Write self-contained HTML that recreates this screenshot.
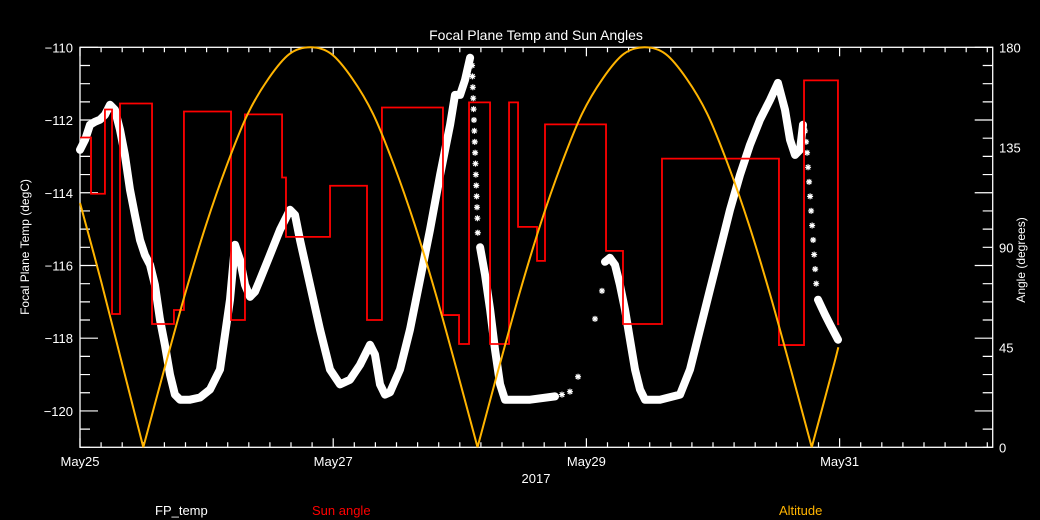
<!DOCTYPE html>
<html><head><meta charset="utf-8">
<style>
html,body{margin:0;padding:0;background:#000;}
svg{display:block;font-family:"Liberation Sans",sans-serif;}
</style></head>
<body>
<svg id="chart" width="1040" height="520" viewBox="0 0 1040 520" xmlns="http://www.w3.org/2000/svg">
<rect x="0" y="0" width="1040" height="520" fill="#000"/>
<text x="536" y="40" fill="#fff" font-size="14" text-anchor="middle">Focal Plane Temp and Sun Angles</text>
<g id="axes"></g>
<g id="marks"></g>
<text x="536" y="483" fill="#fff" font-size="13" text-anchor="middle">2017</text>
<text transform="translate(29,247) rotate(-90)" fill="#fff" font-size="12" text-anchor="middle">Focal Plane Temp (degC)</text>
<text transform="translate(1025,260) rotate(-90)" fill="#fff" font-size="12" text-anchor="middle">Angle (degrees)</text>
<text x="155" y="515" fill="#fff" font-size="13">FP_temp</text>
<text x="312" y="515" fill="#ff0000" font-size="13">Sun angle</text>
<text x="779" y="515" fill="#ffb400" font-size="13">Altitude</text>
</svg>
<script>
// ---- data ----
const xTickLabels = ["May25","May27","May29","May31"];
const xTickDays = [0,2,4,6];
const leftTickVals = [-110,-112,-114,-116,-118,-120];
const rightTickVals = [0,45,90,135,180];

const sunDays = [0,0.087,0.197,0.253,0.316,0.569,0.742,0.821,1.193,1.303,1.596,1.627,1.975,2.267,2.385,2.867,2.994,3.073,3.239,3.389,3.460,3.610,3.673,4.155,4.289,4.597,5.521,5.719,5.987];
const sunAngles = [139.4,114.1,152.0,60.0,154.7,55.5,61.8,151.1,57.3,149.8,121.4,94.7,117.7,57.3,152.9,59.5,46.5,155.2,46.5,155.2,99.2,83.9,145.3,88.4,55.5,129.9,46.0,165.1,55.5];

const altDays = [0,0.17,0.335,0.5,0.665,0.83,0.995,1.16,1.325,1.49,1.655,1.82,1.985,2.15,2.315,2.48,2.645,2.81,2.975,3.14,3.305,3.47,3.635,3.80,3.965,4.13,4.295,4.46,4.625,4.79,4.955,5.12,5.285,5.45,5.615,5.78,5.945,5.99];
const altVals = [110,74,37,0,35,69,100,127,150,166,177,180,177,166,150,127,100,69,35,0,35,69,100,127,150,166,177,180,177,166,150,127,100,69,35,0,35,45];

const fpDays = [0,0.04,0.079,0.118,0.158,0.197,0.237,0.276,0.316,0.355,0.395,0.434,0.474,0.513,0.553,0.592,0.632,0.671,0.711,0.750,0.790,0.869,0.948,1.027,1.106,1.185,1.224,1.264,1.303,1.343,1.382,1.422,1.501,1.580,1.659,1.698,1.738,1.817,1.896,1.975,2.054,2.133,2.212,2.291,2.330,2.370,2.409,2.449,2.528,2.607,2.686,2.765,2.844,2.923,2.962,3.002,3.041,3.081,null,3.160,3.199,3.239,3.278,3.318,3.357,3.555,3.752,null,4.147,4.186,4.226,4.265,4.305,4.344,4.384,4.423,4.463,4.581,4.739,4.818,4.897,4.976,5.055,5.134,5.213,5.292,5.371,5.450,5.513,5.569,5.608,5.648,5.687,5.711,null,5.829,5.885,5.924,5.987];
const fpTemps = [-112.82,-112.54,-112.13,-112.05,-111.99,-111.86,-111.58,-111.72,-112.27,-112.96,-113.92,-114.61,-115.30,-115.71,-115.98,-116.53,-117.49,-118.18,-119.00,-119.55,-119.69,-119.69,-119.63,-119.41,-118.86,-116.94,-115.43,-115.84,-116.53,-116.86,-116.72,-116.39,-115.71,-115.02,-114.47,-114.61,-115.30,-116.53,-117.76,-118.86,-119.27,-119.14,-118.73,-118.18,-118.45,-119.27,-119.55,-119.49,-118.86,-117.76,-116.39,-115.02,-113.51,-112.13,-111.31,-111.31,-110.90,-110.29,null,-115.50,-116.25,-117.21,-118.31,-119.27,-119.69,-119.69,-119.60,null,-115.90,-115.79,-115.98,-116.53,-117.21,-118.04,-118.86,-119.41,-119.69,-119.69,-119.55,-118.86,-117.76,-116.66,-115.57,-114.47,-113.51,-112.68,-111.99,-111.45,-110.98,-111.72,-112.54,-112.96,-112.82,-112.13,null,-116.94,-117.35,-117.62,-118.04];

const fpStarDays = [3.097,3.100,3.103,3.106,3.109,3.112,3.115,3.118,3.121,3.124,3.127,3.130,3.133,3.136,3.139,3.142,3.807,3.870,3.934,4.068,4.123,5.727,5.735,5.743,5.751,5.759,5.767,5.775,5.783,5.791,5.799,5.807,5.815];
const fpStarTemps = [-110.5,-110.8,-111.1,-111.4,-111.7,-112.0,-112.3,-112.6,-112.9,-113.2,-113.5,-113.8,-114.1,-114.4,-114.7,-115.1,-119.55,-119.47,-119.06,-117.47,-116.70,-112.3,-112.6,-112.9,-113.3,-113.7,-114.1,-114.5,-114.9,-115.3,-115.7,-116.1,-116.5];

// ---- axes functions ----
const X0=80, X1=992.7, Y0=47.3, Y1=447.3, PXD=126.6;
const xS = d => X0 + d*PXD;
const yT = t => Y0 + (-110 - t)*(Y1-Y0)/11;
const yA = a => Y1 - a*(Y1-Y0)/180;
const NS="http://www.w3.org/2000/svg";
const axes=document.getElementById('axes'), marks=document.getElementById('marks');
function mk(tag, attrs, parent){const e=document.createElementNS(NS,tag);for(const k in attrs)e.setAttribute(k,attrs[k]);parent.appendChild(e);return e;}

const frame = mk('rect',{x:X0,y:Y0,width:X1-X0,height:Y1-Y0,fill:'none',stroke:'#fff','stroke-width':1.3},axes);



// x minor ticks every 4h
let tk='';
for(let i=0;i*PXD/6+X0<X1;i++){const x=X0+i*PXD/6;const L=(i%12===0)?9:5;tk+=`M${x},${Y1}v${-L}M${x},${Y0}v${L}`;}
// left ticks each 0.5 deg
for(let i=0;i<=22;i++){const y=Y0+i*(Y1-Y0)/22;const L=(i%4===0)?18:10;tk+=`M${X0},${y}h${L}M${X1},${y}h${-L}`;}
const ticks=mk('path',{d:tk,stroke:'#fff','stroke-width':1.2,fill:'none'},axes);



xTickDays.forEach((d,i)=>{const t=mk('text',{x:xS(d),y:466,fill:'#fff','font-size':13,'text-anchor':'middle'},axes);t.textContent=xTickLabels[i];

});
leftTickVals.forEach(v=>{const t=mk('text',{x:73,y:yT(v)+5,fill:'#fff','font-size':13,'text-anchor':'end'},axes);t.textContent='\u2212'+Math.abs(v);

});
rightTickVals.forEach(v=>{const t=mk('text',{x:999,y:yA(v)+5,fill:'#fff','font-size':13},axes);t.textContent=v;

});

// ---- FP temp band ----
let d='',pen=false;
for(let i=0;i<fpDays.length;i++){if(fpDays[i]===null){pen=false;continue;}d+=(pen?'L':'M')+xS(fpDays[i]).toFixed(1)+','+yT(fpTemps[i]).toFixed(1);pen=true;}
const fp=mk('path',{d:d,stroke:'#fff','stroke-width':8,fill:'none','stroke-linejoin':'round','stroke-linecap':'round'},marks);


fpStarDays.forEach((dd,i)=>{const x=xS(dd),y=yT(fpStarTemps[i]);
const s=mk('path',{d:`M${x-3},${y}h6M${x},${y-3}v6M${x-2.2},${y-2.2}l4.4,4.4M${x+2.2},${y-2.2}l-4.4,4.4`,stroke:'#fff','stroke-width':1.2},marks);

});

// ---- Sun angle steps ----
let sd='';
for(let i=0;i<sunDays.length;i++){const x=xS(sunDays[i]),y=yA(sunAngles[i]);sd+=(i===0?`M${x},${y}`:`V${y}`);const nx=i+1<sunDays.length?xS(sunDays[i+1]):xS(5.99);sd+=`H${nx}`;}
sd+=`V${yA(55)}`;
const sun=mk('path',{d:sd,stroke:'#ff0000','stroke-width':1.8,fill:'none'},marks);



// ---- Altitude curve (Catmull-Rom, split at zeros) ----
function crPath(pts){let p=`M${pts[0][0]},${pts[0][1]}`;for(let i=0;i<pts.length-1;i++){const p0=pts[Math.max(i-1,0)],p1=pts[i],p2=pts[i+1],p3=pts[Math.min(i+2,pts.length-1)];
p+=`C${p1[0]+(p2[0]-p0[0])/6},${p1[1]+(p2[1]-p0[1])/6} ${p2[0]-(p3[0]-p1[0])/6},${p2[1]-(p3[1]-p1[1])/6} ${p2[0]},${p2[1]}`;}return p;}
let groups=[[]];
altDays.forEach((dd,i)=>{const pt=[xS(dd),yA(altVals[i])];groups[groups.length-1].push(pt);if(altVals[i]===0&&i>0&&i<altDays.length-1)groups.push([pt]);});
let ad='';groups.forEach(g=>{if(g.length>1)ad+=crPath(g);});
const alt=mk('path',{d:ad,stroke:'#ffb400','stroke-width':2,fill:'none'},marks);


</script>
</body></html>
